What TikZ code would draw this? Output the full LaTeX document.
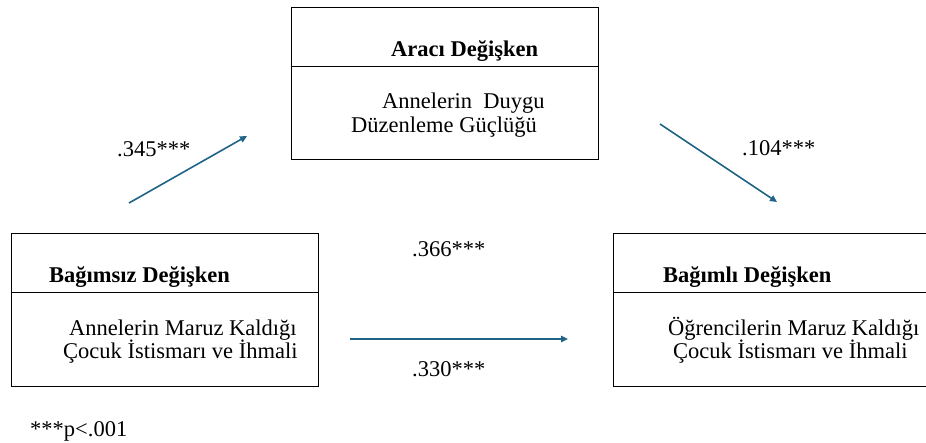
\documentclass[tikz,border=0pt]{standalone}
\usepackage{fontspec}
\setmainfont{Liberation Serif}
\usetikzlibrary{arrows.meta, positioning}
\definecolor{fleche}{RGB}{31,100,135}

\begin{document}
\begin{tikzpicture}[x=1pt, y=-1pt,
    cadre/.style={draw, line width=0.8pt, inner sep=0pt, outer sep=0pt, minimum width=307pt, anchor=north west},
    texte/.style={anchor=base west, inner sep=0pt, font={\fontsize{22.5}{27}\selectfont}},
    titre/.style={texte, font={\fontsize{22.5}{27}\selectfont\bfseries}},
    lien/.style={-{Triangle[length=7pt, width=6.5pt]}, line width=1.6pt, color=fleche}]

                    % Cadre de l'image
                    \useasboundingbox (0,0) rectangle (926,443);
                    \clip (0,0) rectangle (926,443);

                    % Définitions des cadres
                    \node[cadre, minimum height=59pt] (aracititre) at (291,7) {};
                    \node[cadre, minimum height=93pt] (aracicontenu) at (aracititre.south west) {};
                    \node[cadre, minimum height=59pt] (bagimsiztitre) at (11,233) {};
                    \node[cadre, minimum height=94pt] (bagimsizcontenu) at (bagimsiztitre.south west) {};
                    \node[cadre, minimum height=59pt, minimum width=322pt] (bagimlititre) at (613,233) {};
                    \node[cadre, minimum height=94pt, minimum width=322pt] (bagimlicontenu) at (bagimlititre.south west) {};

                    % Textes des cadres
                    \node[titre] (araci) at (391,57) {Aracı Değişken};
                    \node[texte] (araci1) at (382,109) {Annelerin\ \ Duygu};
                    \node[texte] (araci2) at (351,133) {Düzenleme Güçlüğü};
                    \node[titre] (bagimsiz) at (49,283) {Bağımsız Değişken};
                    \node[texte] (bagimsiz1) at (69,336) {Annelerin Maruz Kaldığı};
                    \node[texte] (bagimsiz2) at (63,359) {Çocuk İstismarı ve İhmali};
                    \node[titre] (bagimli) at (663,283) {Bağımlı Değişken};
                    \node[texte] (bagimli1) at (668,336) {Öğrencilerin Maruz Kaldığı};
                    \node[texte] (bagimli2) at (673,359) {Çocuk İstismarı ve İhmali};

                    % Définition des flèches
                    \coordinate (d1) at (129,203);
                    \coordinate (f1) at (247,136);
                    \coordinate (d2) at (660,124);
                    \coordinate (f2) at (777,202);
                    \coordinate (d3) at (350,339);
                    \coordinate (f3) at (568,339);
                    \draw[lien] (d1) -- (f1);
                    \draw[lien] (d2) -- (f2);
                    \draw[lien] (d3) -- (f3);

                    % Coefficients
                    \node[texte] (c1) at (117,157) {.345***};
                    \node[texte] (c2) at (742,156) {.104***};
                    \node[texte] (c3) at (412,257) {.366***};
                    \node[texte] (c4) at (412,377) {.330***};
                    \node[texte] (note) at (30,436) {***p<.001};

                \end{tikzpicture}
\end{document}
